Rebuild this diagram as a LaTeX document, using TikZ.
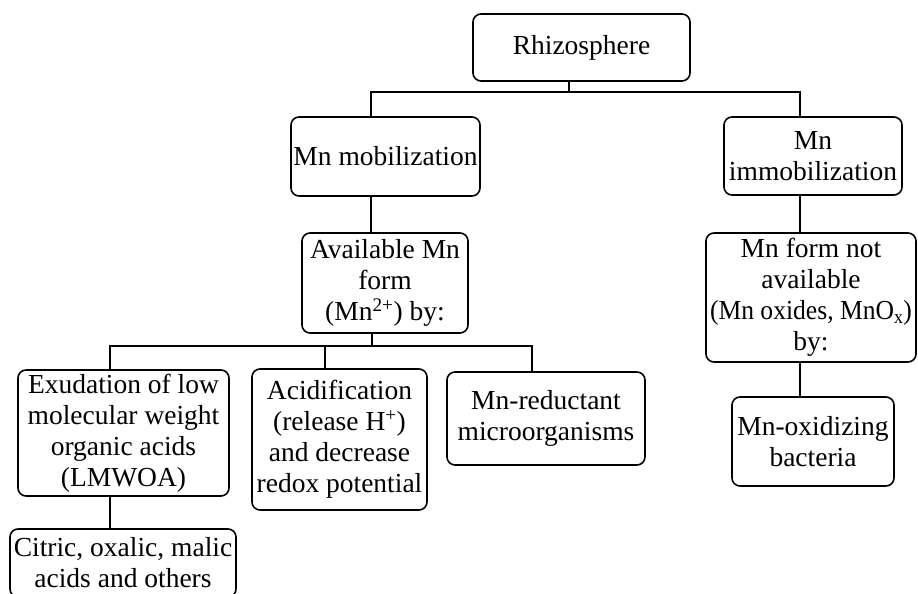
\documentclass[tikz,border=0pt]{standalone}
\usepackage{fontspec}
\usepackage{graphicx}
\setmainfont{Liberation Serif}
\begin{document}
\begin{tikzpicture}[x=1pt,y=-1pt,
  box/.style={draw, line width=1.6pt, rounded corners=8pt, inner sep=0pt, outer sep=0pt,
    align=center, font=\fontsize{27.5}{31}\selectfont},
  conn/.style={line width=1.6pt}]
\useasboundingbox (0,0) rectangle (918,594);
\clip (0,0) rectangle (918,594);
\fill[white] (0,0) rectangle (918,594);
% boxes
\node[box, minimum width=217pt, minimum height=67pt] (rhizo) at (581.5,47.5) {Rhizosphere};
\node[box, minimum width=189pt, minimum height=79pt] (mob) at (385.5,156.5) {Mn mobilization};
\node[box, minimum width=178pt, minimum height=78pt] (imm) at (813,156) {Mn\\immobilization};
\node[box, minimum width=166pt, minimum height=100pt] (avail) at (385,283) {Available Mn\\form\\(Mn\textsuperscript{2+}) by:};
\node[box, minimum width=210pt, minimum height=129pt] (notav) at (811,297.5) {Mn form not\\available\\\scalebox{0.93}[1]{(Mn oxides, MnO\textsubscript{x})}\\by:};
\node[box, minimum width=211pt, minimum height=126pt] (exud) at (123.5,433) {Exudation of low\\molecular weight\\organic acids\\(LMWOA)};
\node[box, minimum width=175pt, minimum height=141pt] (acid) at (339.5,439.5) {Acidification\\(release H\textsuperscript{+})\\and decrease\\redox potential};
\node[box, minimum width=198pt, minimum height=93pt] (red) at (546,418.5) {Mn-reductant\\microorganisms};
\node[box, minimum width=162pt, minimum height=89pt] (oxid) at (813,441.5) {Mn-oxidizing\\bacteria};
\node[box, minimum width=226pt, minimum height=68pt] (cit) at (123,563) {Citric, oxalic, malic\\acids and others};
% junction coordinates
\coordinate (j1) at (569,92);
\coordinate (xm) at (371,0);
\coordinate (xi) at (800,0);
\coordinate (j2) at (372,346);
\coordinate (xe) at (110,0);
\coordinate (xa) at (325,0);
\coordinate (xr) at (532,0);
% connectors
\draw[conn] (rhizo.south -| j1) -- (j1);
\draw[conn] (mob.north -| xm) |- (j1) -| (imm.north -| xi);
\draw[conn] (mob.south -| xm) -- (avail.north -| xm);
\draw[conn] (imm.south -| xi) -- (notav.north -| xi);
\draw[conn] (avail.south -| j2) -- (j2);
\draw[conn] (exud.north -| xe) |- (j2) -| (red.north -| xr);
\draw[conn] (j2 -| xa) -- (acid.north -| xa);
\draw[conn] (exud.south -| xe) -- (cit.north -| xe);
\draw[conn] (notav.south -| xi) -- (oxid.north -| xi);
\end{tikzpicture}
\end{document}
